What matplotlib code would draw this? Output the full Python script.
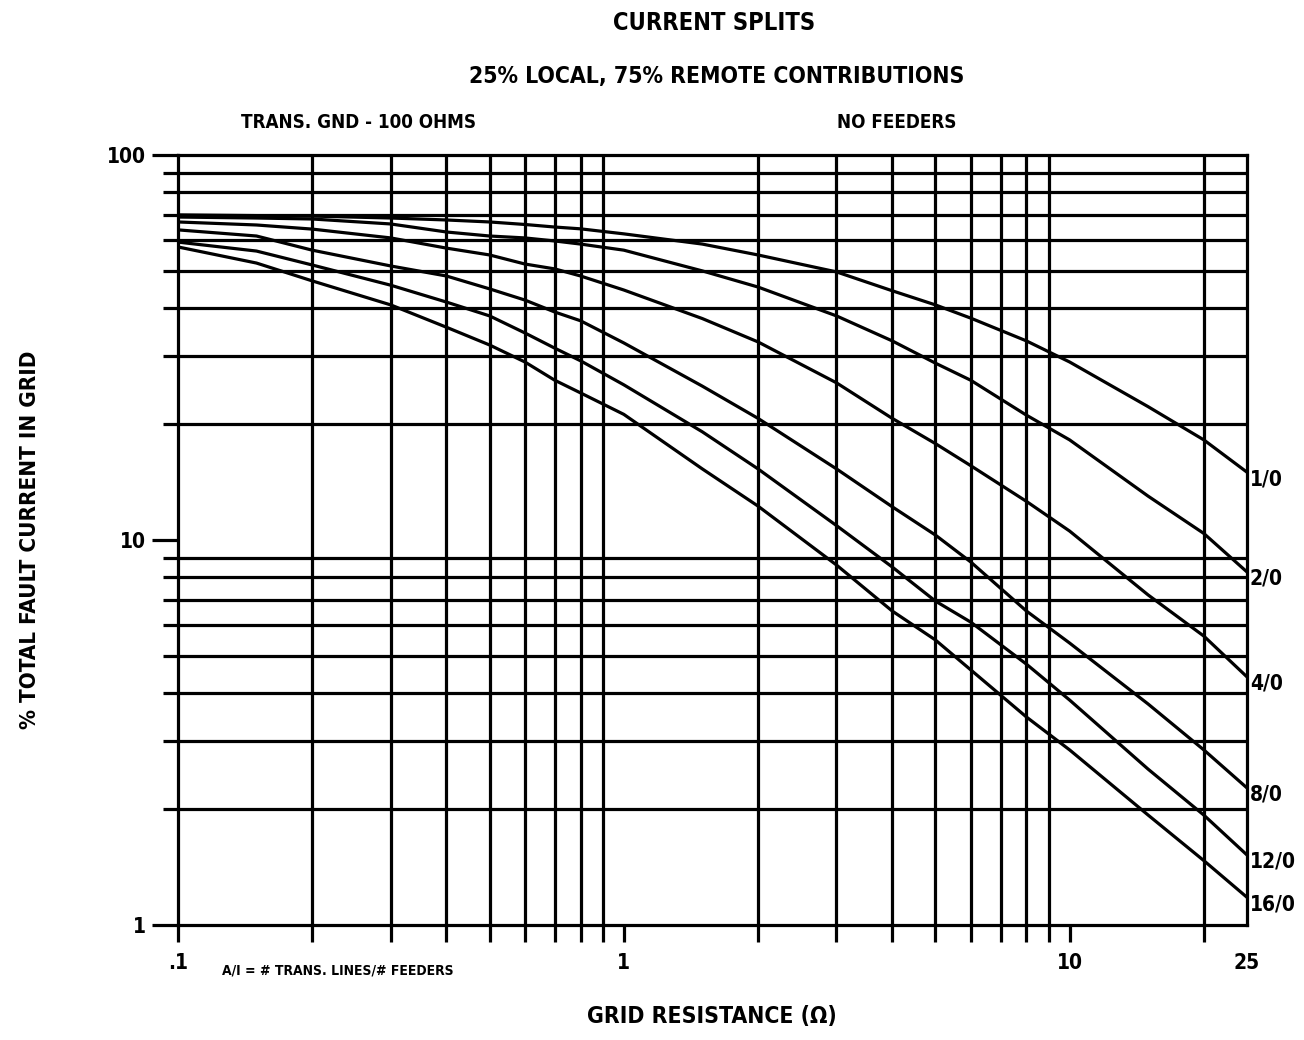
import numpy as np
import matplotlib
matplotlib.use('Agg')
import matplotlib.pyplot as plt
from matplotlib.ticker import LogLocator, NullFormatter, FixedLocator

plt.rcParams['font.family'] = ['DejaVu Sans']
plt.rcParams['font.stretch'] = 'condensed'
plt.rcParams['font.weight'] = 'bold'

# grid resistance (ohm)
r = [0.1, 0.15, 0.2, 0.3, 0.4, 0.5, 0.6, 0.7, 0.8, 1, 1.5, 2, 3, 4, 5, 6, 8, 10, 15, 20, 25]

# % of total fault current in grid, one list per trans. lines / feeders case
c_1_0 = [69.9, 69.6, 69.4, 68.6, 67.8, 67.0, 66.0, 65.0, 64.3, 62.4, 58.7, 55.0, 49.7, 44.4, 40.8, 37.7, 32.9, 29.0, 22.2, 18.2, 15.0]
c_2_0 = [69.0, 68.6, 68.2, 66.2, 63.1, 61.6, 60.9, 59.8, 58.7, 56.6, 50.0, 45.4, 38.2, 32.9, 28.8, 26.0, 21.1, 18.2, 13.0, 10.4, 8.26]
c_4_0 = [67.0, 65.8, 64.2, 60.9, 57.3, 55.0, 52.1, 50.6, 48.5, 44.6, 37.6, 32.7, 25.6, 20.7, 17.8, 15.6, 12.6, 10.55, 7.2, 5.63, 4.41]
c_8_0 = [63.9, 61.6, 56.6, 51.5, 48.5, 44.9, 42.0, 39.1, 37.1, 32.5, 25.1, 20.7, 15.3, 12.2, 10.3, 8.77, 6.54, 5.40, 3.75, 2.85, 2.27]
c_12_0 = [59.4, 56.3, 51.8, 45.9, 41.5, 38.2, 34.5, 31.5, 29.2, 25.3, 19.1, 15.3, 10.9, 8.51, 6.94, 6.12, 4.76, 3.84, 2.54, 1.93, 1.52]
c_16_0 = [57.7, 52.4, 47.1, 40.8, 35.7, 32.1, 29.0, 26.0, 24.1, 21.2, 15.3, 12.25, 8.61, 6.54, 5.50, 4.60, 3.47, 2.85, 1.93, 1.47, 1.18]

curves = [c_1_0, c_2_0, c_4_0, c_8_0, c_12_0, c_16_0]
curve_names = ['1/0', '2/0', '4/0', '8/0', '12/0', '16/0']

x_ticks = [0.1, 1, 10, 25]
x_tick_labels = ['.1', '1', '10', '25']
y_ticks = [1, 10, 100]
y_tick_labels = ['1', '10', '100']

lw = 2.3

fig = plt.figure(figsize=(13.04, 10.4), dpi=100)
ax = fig.add_axes([178/1304, 1 - 925/1040, (1247 - 178)/1304, (925 - 155)/1040])

ax.set_xscale('log')
ax.set_yscale('log')
ax.set_xlim(0.1, 25)
ax.set_ylim(1, 100)

for vals, name in zip(curves, curve_names):
    ax.plot(r, vals, color='k', lw=lw, solid_joinstyle='round', zorder=3)
    ax.annotate(name, xy=(r[-1], vals[-1]), xytext=(2, -5), textcoords='offset points',
                ha='left', va='center', fontsize=15, clip_on=False)

ax.xaxis.set_major_locator(FixedLocator(x_ticks))
ax.set_xticklabels(x_tick_labels)
ax.xaxis.set_minor_locator(LogLocator(base=10, subs=np.arange(2, 10)))
ax.xaxis.set_minor_formatter(NullFormatter())
ax.yaxis.set_major_locator(FixedLocator(y_ticks))
ax.set_yticklabels(y_tick_labels)
ax.yaxis.set_minor_locator(LogLocator(base=10, subs=np.arange(2, 10)))
ax.yaxis.set_minor_formatter(NullFormatter())
ax.xaxis.get_major_ticks()[3].tick1line.set_visible(False)

ax.grid(False, which='major')
ax.grid(True, which='minor', color='k', lw=lw)

ax.tick_params(axis='x', which='both', direction='out', length=12, width=lw, labelsize=15, pad=8)
ax.tick_params(axis='y', which='major', direction='out', length=19, width=lw, labelsize=15, pad=4)
ax.tick_params(axis='y', which='minor', direction='out', length=11, width=lw)
for s in ax.spines.values():
    s.set_linewidth(lw)

fig.text(712/1304, 1 - 1017/1040, 'GRID RESISTANCE (\u03a9)', ha='center', va='center', fontsize=16.5)
fig.text(30/1304, 1 - 540/1040, '% TOTAL FAULT CURRENT IN GRID', ha='center', va='center',
         rotation=90, fontsize=16)

fig.text(714/1304, 1 - 23/1040, 'CURRENT SPLITS', ha='center', va='center', fontsize=17)
fig.text(717/1304, 1 - 77/1040, '25% LOCAL, 75% REMOTE CONTRIBUTIONS', ha='center', va='center', fontsize=16.5)
fig.text(358/1304, 1 - 122/1040, 'TRANS. GND - 100 OHMS', ha='center', va='center', fontsize=13.5)
fig.text(897/1304, 1 - 122/1040, 'NO FEEDERS', ha='center', va='center', fontsize=13.5)
fig.text(222/1304, 1 - 970/1040, 'A/I = # TRANS. LINES/# FEEDERS', ha='left', va='center', fontsize=10)

fig.savefig('out.png', dpi=100)
